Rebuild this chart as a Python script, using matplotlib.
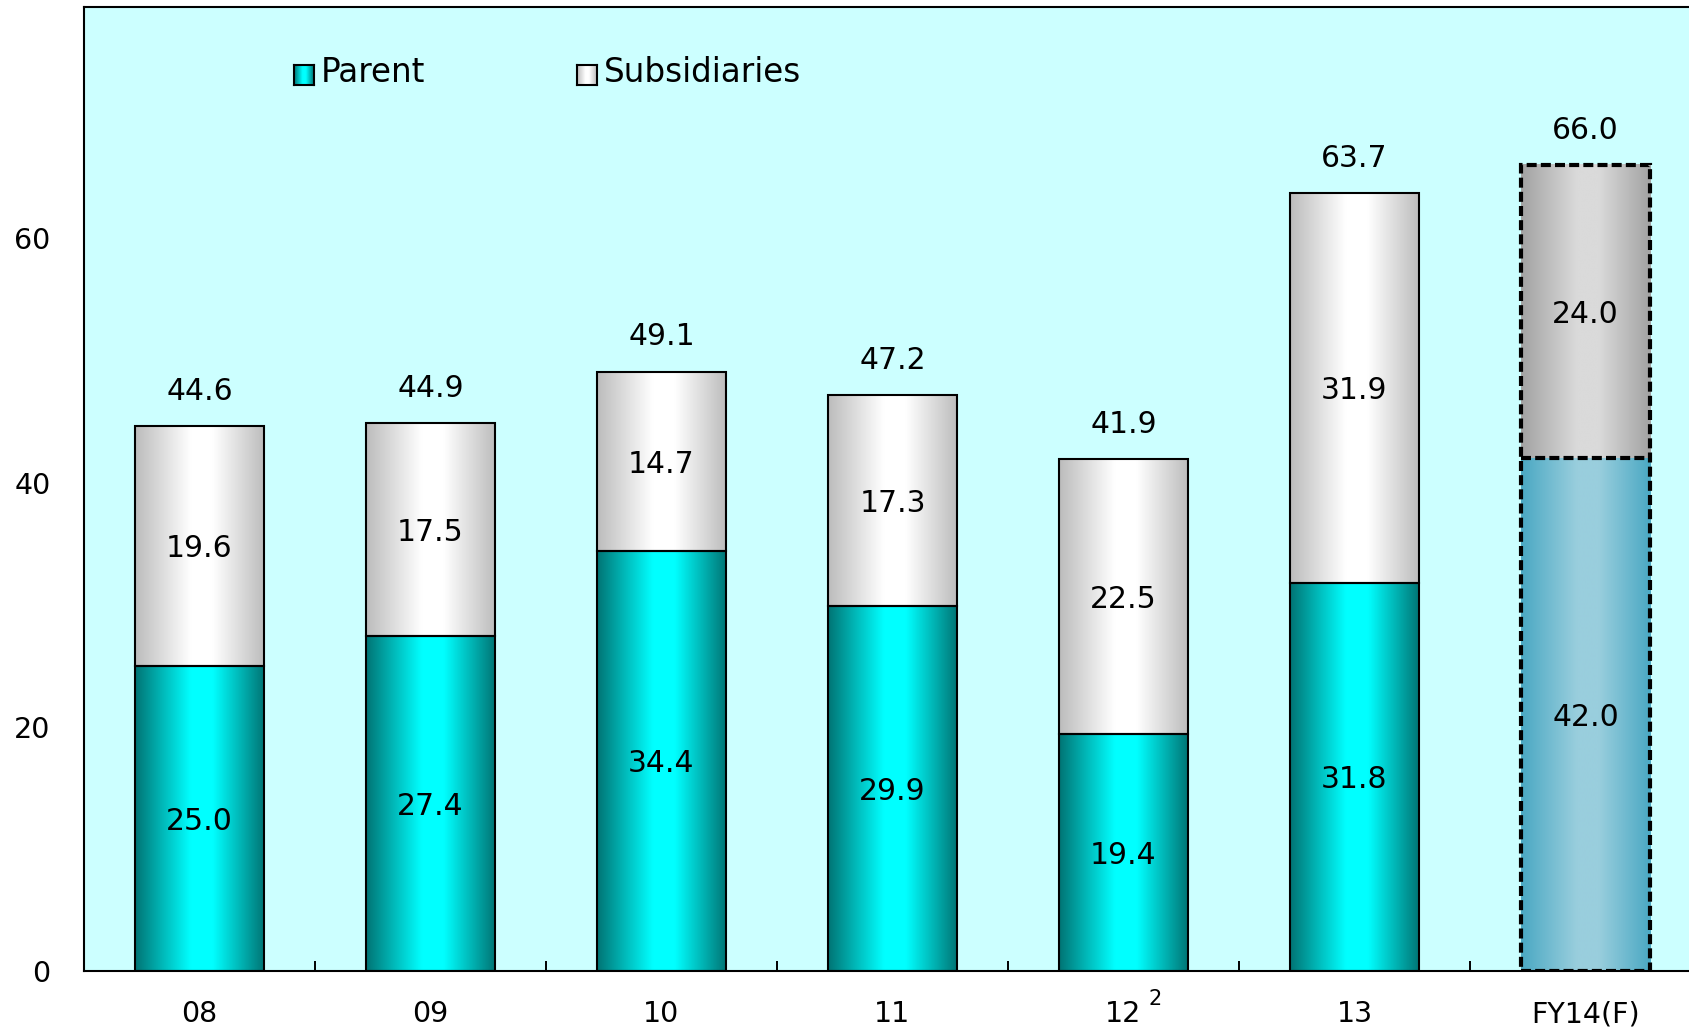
import numpy as np
import matplotlib
matplotlib.use('Agg')
import matplotlib.pyplot as plt
from matplotlib.colors import LinearSegmentedColormap

years = ['08', '09', '10', '11', '12', '13', 'FY14(F)']
parent = [25.0, 27.4, 34.4, 29.9, 19.4, 31.8, 42.0]
subsidiaries = [19.6, 17.5, 14.7, 17.3, 22.5, 31.9, 24.0]
totals = [44.6, 44.9, 49.1, 47.2, 41.9, 63.7, 66.0]
forecast = [False, False, False, False, False, False, True]
note_year = '12'
note_mark = '2'

plt.rcParams['font.family'] = 'DejaVu Sans'


def shade(name, edge, mid):
    # horizontal "cylinder" shading: dark edges, bright middle
    return LinearSegmentedColormap.from_list(name, [(0, edge), (0.43, mid), (0.6, mid), (1, edge)])


teal = shade('teal', '#007474', '#00ffff')
silver = shade('silver', '#bcbcbc', '#ffffff')
blue = shade('blue', '#4aa8c3', '#99cedd')
grey = shade('grey', '#a2a2a2', '#dadada')
grad = np.linspace(0, 1, 256).reshape(1, -1)

fig = plt.figure(figsize=(16.9, 10.32), dpi=100)
ax = fig.add_axes([84 / 1690, 61 / 1032, 1617 / 1690, 964.5 / 1032])
ax.set_facecolor('#ccffff')

x = np.arange(len(years))
bars1 = ax.bar(x, parent, 0.56, facecolor='none', edgecolor='black', linewidth=1.5, zorder=3)
bars2 = ax.bar(x, subsidiaries, 0.56, bottom=parent, facecolor='none', edgecolor='black', linewidth=1.5, zorder=3)


def fill_gradient(rect, cmap):
    x0, y0 = rect.get_x(), rect.get_y()
    ax.imshow(grad, cmap=cmap, extent=[x0, x0 + rect.get_width(), y0, y0 + rect.get_height()],
              aspect='auto', interpolation='bilinear', zorder=2)


dash = (0, (2.4, 1.0))
for i in range(len(years)):
    if forecast[i]:
        fill_gradient(bars1[i], blue)
        fill_gradient(bars2[i], grey)
        bars1[i].set_edgecolor('none')
        bars2[i].set_edgecolor('none')
        # forecast column: one dashed outline plus a dashed split line
        ax.bar(x[i], parent[i] + subsidiaries[i], 0.56, facecolor='none', edgecolor='black',
               linewidth=3, linestyle=dash, zorder=3)
        r = bars1[i]
        ax.hlines(parent[i], r.get_x(), r.get_x() + r.get_width(), color='black',
                  linewidth=3, linestyle=dash, zorder=3)
    else:
        fill_gradient(bars1[i], teal)
        fill_gradient(bars2[i], silver)

    ax.annotate('%.1f' % parent[i], (x[i], parent[i] / 2), xytext=(0, -2), textcoords='offset points',
                ha='center', va='center', fontsize=21.5, zorder=4)
    ax.annotate('%.1f' % subsidiaries[i], (x[i], parent[i] + subsidiaries[i] / 2), xytext=(0, -2),
                textcoords='offset points', ha='center', va='center', fontsize=21.5, zorder=4)
    ax.annotate('%.1f' % totals[i], (x[i], parent[i] + subsidiaries[i]), xytext=(0, 25),
                textcoords='offset points', ha='center', va='center', fontsize=21.5, zorder=4)

ax.set_xlim(-0.5, 6.5)
ax.set_ylim(0, 79)

ax.set_xticks(x)
ax.set_xticklabels(years)
ax.set_xticks(np.arange(0.5, 6, 1), minor=True)
ax.tick_params(axis='x', which='major', length=0, pad=21, labelsize=20.5)
ax.tick_params(axis='x', which='minor', direction='in', length=7, width=1.4)
ax.set_yticks([0, 20, 40, 60])
ax.tick_params(axis='y', length=0, pad=24, labelsize=20.5)
for s in ax.spines.values():
    s.set_linewidth(1.5)

# footnote mark next to FY12
ax.annotate(note_mark, (years.index(note_year), 0), xycoords=('data', 'axes fraction'),
            xytext=(23, -20), textcoords='offset points', ha='center', va='center', fontsize=15)

# legend
for px, cmap, label in [(294, teal, 'Parent'), (577, silver, 'Subsidiaries')]:
    sq = fig.add_axes([px / 1690, 1 - 85 / 1032, 20 / 1690, 20 / 1032])
    sq.imshow(grad, cmap=cmap, aspect='auto')
    sq.set_xticks([])
    sq.set_yticks([])
    for s in sq.spines.values():
        s.set_linewidth(1.5)
    fig.text((px + 27) / 1690, 1 - 73 / 1032, label, va='center', fontsize=23.5)

plt.savefig('out.png', dpi=100)
